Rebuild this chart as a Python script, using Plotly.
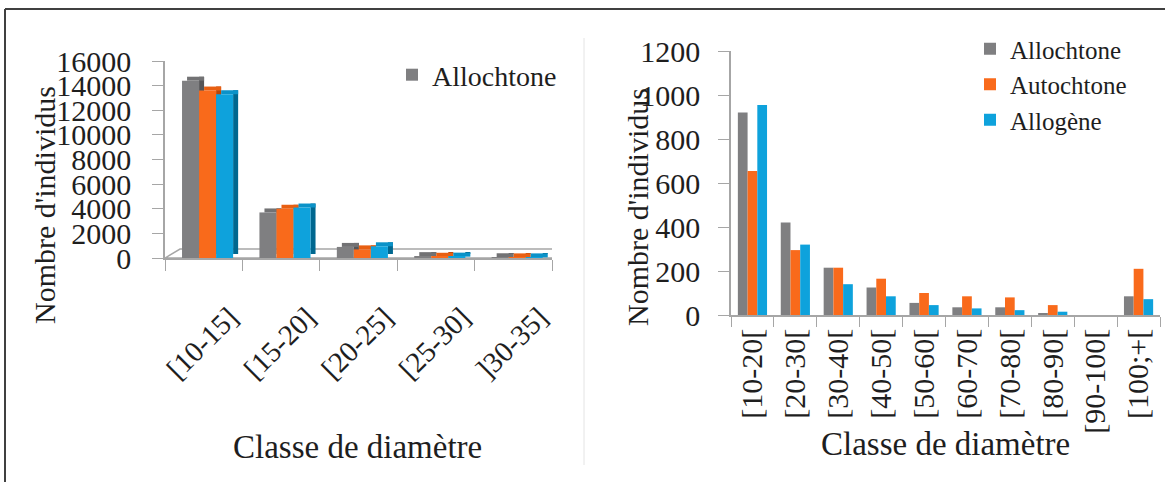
import plotly.graph_objects as go

# ---------------- data ----------------
left_categories = ["[10-15]", "[15-20]", "[20-25]", "[25-30]", "]30-35]"]
left_allochtone = [14400, 3700, 900, 150, 60]
left_autochtone = [13600, 4000, 700, 100, 50]
left_allogene = [13300, 4100, 950, 110, 50]
left_yticks = [0, 2000, 4000, 6000, 8000, 10000, 12000, 14000, 16000]
left_yticklabels = ["0", "2000", "4000", "6000", "8000", "10000", "12000", "14000", "16000"]

right_categories = ["[10-20[", "[20-30[", "[30-40[", "[40-50[", "[50-60[",
                    "[60-70[", "[70-80[", "[80-90[", "[90-100[", "[100;+["]
right_allochtone = [920, 420, 215, 125, 55, 35, 35, 5, 0, 85]
right_autochtone = [655, 295, 215, 165, 100, 85, 80, 45, 0, 210]
right_allogene = [955, 320, 140, 85, 45, 30, 22, 15, 0, 72]
right_yticks = [0, 200, 400, 600, 800, 1000, 1200]
right_yticklabels = ["0", "200", "400", "600", "800", "1000", "1200"]

series_names = ["Allochtone", "Autochtone", "Allogène"]

# ---------------- styling ----------------
W, H = 1165, 482
FONT = "Liberation Serif, Times New Roman, serif"
TXT = "#1e1e1e"
AXC = "#a6a6a6"
front_cols = ["#7f7f81", "#f96a1b", "#0ea2dc"]
top_cols = ["#727274", "#e85f12", "#0b92c8"]
side_cols = ["#555557", "#b8460a", "#00678f"]


def fx(px):
    return px / W


def fy(py):
    return 1 - py / H


fig = go.Figure()

# ---- left chart: pseudo-3D clustered bars ----
bar_w = 0.22
offsets = [-0.28, -0.06, 0.16]
dx = 0.065           # depth in category units
dy = 325             # depth in value units
left_series = [left_allochtone, left_autochtone, left_allogene]
for i, vals in enumerate(left_series):
    # side face
    fig.add_trace(go.Bar(x=left_categories, y=vals, base=dy, offset=offsets[i] + bar_w,
                         width=dx, marker=dict(color=side_cols[i], line_width=0),
                         showlegend=False, hoverinfo="skip", xaxis="x", yaxis="y"))
    # top face
    fig.add_trace(go.Bar(x=left_categories, y=[dy] * len(vals), base=vals,
                         offset=offsets[i] + dx, width=bar_w,
                         marker=dict(color=top_cols[i], line_width=0),
                         showlegend=False, hoverinfo="skip", xaxis="x", yaxis="y"))
    # front face
    fig.add_trace(go.Bar(x=left_categories, y=vals, offset=offsets[i], width=bar_w,
                         marker=dict(color=front_cols[i], line_width=0),
                         name=series_names[i], legend="legend", showlegend=(i == 0),
                         xaxis="x", yaxis="y"))

# ---- right chart: clustered bars ----
right_series = [right_allochtone, right_autochtone, right_allogene]
for i, vals in enumerate(right_series):
    fig.add_trace(go.Bar(x=right_categories, y=vals, name=series_names[i],
                         marker=dict(color=front_cols[i], line_width=0),
                         legend="legend2", xaxis="x2", yaxis="y2"))

tickfont = dict(family=FONT, size=30, color=TXT)

fig.update_layout(
    width=W, height=H,
    margin=dict(l=0, r=0, t=0, b=0, autoexpand=False),
    paper_bgcolor="white", plot_bgcolor="rgba(0,0,0,0)",
    barmode="group", bargap=0.32, bargroupgap=0,
    font=dict(family=FONT, color=TXT),
    xaxis=dict(domain=[fx(165), fx(552)], range=[-0.5, 4.5], type="category",
               tickangle=-45, tickson="boundaries", ticks="outside", ticklen=11,
               tickcolor=AXC, showline=True, linecolor=AXC, linewidth=1.5,
               showgrid=False, zeroline=False, tickfont=dict(family=FONT, size=29, color=TXT),
               ticklabelshift=26, ticklabelstandoff=29, anchor="y"),
    yaxis=dict(domain=[fy(258), fy(61)], range=[0, 16000], tickvals=left_yticks,
               ticktext=left_yticklabels,
               ticks="outside", ticklen=11, tickcolor=AXC, showline=True, linecolor=AXC,
               linewidth=1.5, showgrid=False, zeroline=False, tickfont=tickfont,
               ticklabelstandoff=15, anchor="x"),
    xaxis2=dict(domain=[fx(731), fx(1160)], range=[-0.5, 9.5], type="category",
                tickangle=-90, tickson="boundaries", ticks="outside", ticklen=10,
                tickcolor=AXC, showline=True, linecolor=AXC, linewidth=1.5,
                showgrid=False, zeroline=False, tickfont=tickfont, anchor="y2"),
    yaxis2=dict(domain=[fy(315), fy(51)], range=[0, 1200], tickvals=right_yticks,
                ticktext=right_yticklabels,
                ticks="outside", ticklen=11, tickcolor=AXC, showline=True, linecolor=AXC,
                linewidth=1.5, showgrid=False, zeroline=False, tickfont=tickfont,
                ticklabelstandoff=12, anchor="x2"),
    legend=dict(x=fx(392), y=fy(75), xanchor="left", yanchor="middle",
                bgcolor="rgba(0,0,0,0)", borderwidth=0,
                font=dict(family=FONT, size=28, color=TXT)),
    legend2=dict(x=fx(970), y=fy(26), xanchor="left", yanchor="top",
                 bgcolor="rgba(0,0,0,0)", borderwidth=0,
                 font=dict(family=FONT, size=25, color=TXT)),
)

# floor of the 3D chart (data coordinates of the left axes)
floor_dx = 0.194
floor_dy = 731
fig.add_shape(type="path", xref="x", yref="y", layer="below",
              path=f"M -0.5 0 L 4.5 0 L {4.5 + floor_dx} {floor_dy} L {-0.5 + floor_dx} {floor_dy} Z",
              line=dict(color=AXC, width=1.5), fillcolor="rgba(0,0,0,0)")

# frame and separator
fig.add_shape(type="line", xref="paper", yref="paper", x0=fx(5), x1=1, y0=fy(9), y1=fy(9),
              line=dict(color="#404040", width=2))
fig.add_shape(type="line", xref="paper", yref="paper", x0=fx(5), x1=fx(5), y0=fy(9), y1=0,
              line=dict(color="#404040", width=2))
fig.add_shape(type="line", xref="paper", yref="paper", x0=fx(584), x1=fx(584), y0=fy(38), y1=fy(465),
              line=dict(color="#e4e4e4", width=1))

# axis titles
fig.add_annotation(text="Classe de diamètre", x=fx(357), y=fy(447), xref="paper", yref="paper",
                   showarrow=False, xanchor="center", yanchor="middle",
                   font=dict(family=FONT, size=33, color=TXT))
fig.add_annotation(text="Classe de diamètre", x=fx(945), y=fy(444), xref="paper", yref="paper",
                   showarrow=False, xanchor="center", yanchor="middle",
                   font=dict(family=FONT, size=33, color=TXT))
fig.add_annotation(text="Nombre d'individus", x=fx(44), y=fy(205), xref="paper", yref="paper",
                   showarrow=False, xanchor="center", yanchor="middle", textangle=-90,
                   font=dict(family=FONT, size=30, color=TXT))
fig.add_annotation(text="Nombre d'individus", x=fx(637), y=fy(207), xref="paper", yref="paper",
                   showarrow=False, xanchor="center", yanchor="middle", textangle=-90,
                   font=dict(family=FONT, size=30, color=TXT))

fig.write_html("out.html")
